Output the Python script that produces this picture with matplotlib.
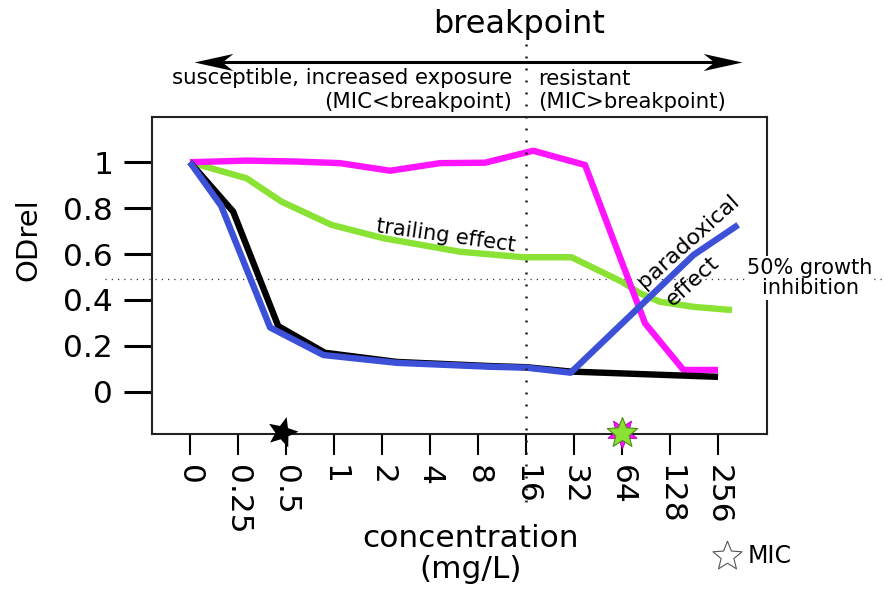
import matplotlib.pyplot as plt
from matplotlib.path import Path
from matplotlib.markers import MarkerStyle
from matplotlib.transforms import Affine2D

# concentration steps (mg/L), plotted on an evenly spaced index axis
conc_labels = ['0', '0.25', '0.5', '1', '2', '4', '8', '16', '32', '64', '128', '256']

# relative optical density curves (x in concentration-step units)
magenta_x = [0, 1.18, 2.22, 3.125, 4.17, 5.21, 6.15, 7.15, 8.23, 9.48, 10.28, 11.0]
magenta_y = [1.0, 1.007, 1.003, 0.996, 0.963, 0.996, 0.998, 1.05, 0.988, 0.298, 0.095, 0.095]

green_x = [0, 1.18, 1.91, 2.95, 4.03, 5.625, 6.94, 7.95, 8.99, 9.375, 9.79, 10.49, 11.29]
green_y = [1.0, 0.93, 0.828, 0.727, 0.669, 0.61, 0.586, 0.586, 0.48, 0.429, 0.392, 0.37, 0.356]

black_x = [0, 0.90, 1.84, 2.81, 4.31, 6.25, 7.01, 7.93, 11.0]
black_y = [1.0, 0.785, 0.286, 0.17, 0.13, 0.112, 0.107, 0.088, 0.065]

blue_x = [0, 0.65, 1.67, 2.78, 4.31, 6.25, 7.01, 7.93, 10.49, 11.42]
blue_y = [1.0, 0.81, 0.28, 0.16, 0.126, 0.109, 0.105, 0.083, 0.596, 0.727]

breakpoint_x = 7          # 16 mg/L
inhibition_y = 0.49       # 50% growth inhibition level
mic_black_x = 1.91
mic_green_x = 9.01

W, H = 884, 589


def fx(x):
    return x / W


def fy(y):
    return 1 - y / H


def star(angle=0):
    # slightly fatter five-point star than the built-in '*'
    return MarkerStyle(Path.unit_regular_star(5, 0.44), transform=Affine2D().rotate_deg(angle))


fig = plt.figure(figsize=(W / 100, H / 100), dpi=100)
ax = fig.add_axes([fx(152), fy(434), fx(767) - fx(152), fy(117) - fy(434)])
ax.set_xlim(-0.79, 12.02)
ax.set_ylim(-0.184, 1.197)

lw = 4.6
ax.plot(green_x, green_y, color='#8ae234', lw=lw, solid_capstyle='butt', zorder=2)
ax.plot(magenta_x, magenta_y, color='#ff14ff', lw=lw, solid_capstyle='butt', zorder=3)
ax.plot(black_x, black_y, color='black', lw=lw, solid_capstyle='butt', zorder=4)
ax.plot(blue_x, blue_y, color='#3c50d8', lw=lw, solid_capstyle='butt', zorder=5)

# axes styling
for sp in ax.spines.values():
    sp.set_linewidth(1.5)
    sp.set_color('#222222')
ax.set_xticks(range(len(conc_labels)))
ax.set_xticklabels(conc_labels, rotation=-90)
ax.set_yticks([0, 0.2, 0.4, 0.6, 0.8, 1])
ax.set_yticklabels(['0', '0.2', '0.4', '0.6', '0.8', '1'])
ax.tick_params(axis='x', length=15, width=1.5, pad=7, labelsize=22.5)
ax.tick_params(axis='y', length=20, width=2.2, pad=8, labelsize=22.5)

# reference lines
ax.plot([-0.076, 1.19], [inhibition_y, inhibition_y], transform=ax.get_yaxis_transform(),
        color='#333333', lw=0.9, ls=(0, (1, 4)), clip_on=False, zorder=1)
ax.plot([breakpoint_x, breakpoint_x], [1.23, -0.233], transform=ax.get_xaxis_transform(),
        color='#222222', lw=1.8, ls=(0, (0.8, 4)), clip_on=False, zorder=7)

# MIC stars
ax.plot([mic_black_x], [-0.174], marker=star(-15), ms=23, color='black', mew=0,
        clip_on=False, zorder=8)
ax.plot([mic_green_x], [-0.18], marker=star(36), ms=22, mfc='#ff14ff', mec='#aa00aa',
        mew=0.6, clip_on=False, zorder=8)
ax.plot([mic_green_x], [-0.18], marker=star(0), ms=23, mfc='#8ae234', mec='#4e8a16',
        mew=0.8, clip_on=False, zorder=9)

# double-headed arrow above the axes
head = Path([(0, 0), (-1, 0.22), (-0.72, 0), (-1, -0.22), (0, 0)],
            [Path.MOVETO, Path.LINETO, Path.LINETO, Path.LINETO, Path.CLOSEPOLY])
arr_y = 1.1735
arr_l, arr_r = 0.094, 11.49
tr = ax.get_xaxis_transform()
ax.plot([arr_l + 0.45, arr_r - 0.45], [arr_y, arr_y], transform=tr, color='black', lw=2.2,
        clip_on=False)
ax.plot([arr_r], [arr_y], transform=tr, marker=MarkerStyle(head), ms=56, color='black',
        mew=0, clip_on=False)
ax.plot([arr_l], [arr_y], transform=tr, marker=MarkerStyle(head, transform=Affine2D().rotate_deg(180)),
        ms=56, color='black', mew=0, clip_on=False)

# annotations
fig.text(fx(519), fy(24), 'breakpoint', fontsize=23, ha='center', va='center')
fig.text(fx(512), fy(78), 'susceptible, increased exposure', fontsize=15.3, ha='right', va='center')
fig.text(fx(512), fy(102), '(MIC<breakpoint)', fontsize=15.3, ha='right', va='center')
fig.text(fx(538), fy(79), 'resistant', fontsize=15.3, ha='left', va='center')
fig.text(fx(538), fy(102), '(MIC>breakpoint)', fontsize=15.3, ha='left', va='center')

ax.text(5.33, 0.679, 'trailing effect', fontsize=15, rotation=-8, ha='center', va='center',
        rotation_mode='anchor', zorder=6)
ax.text(10.375, 0.657, 'paradoxical', fontsize=16, rotation=42, ha='center', va='center',
        rotation_mode='anchor', zorder=6)
ax.text(10.46, 0.483, 'effect', fontsize=16, rotation=42, ha='center', va='center',
        rotation_mode='anchor', zorder=6)
fig.text(fx(810), fy(278), '50% growth\ninhibition', fontsize=15, ha='center', va='center',
         multialignment='center', linespacing=1.05,
         bbox=dict(facecolor='white', edgecolor='none', pad=1))

fig.text(fx(28), fy(240), 'ODrel', fontsize=21, rotation=90, ha='center', va='center')
fig.text(fx(471), fy(554), 'concentration\n(mg/L)', fontsize=22.5, ha='center', va='center',
         multialignment='center', linespacing=1.05)

# legend entry for the MIC symbol
ax.plot([fx(727)], [fy(556)], transform=fig.transFigure, marker=star(0), ms=22, mfc='white',
        mec='#555555', mew=0.8, clip_on=False)
fig.text(fx(748), fy(556), 'MIC', fontsize=17, ha='left', va='center')

fig.savefig('out.png', dpi=100)
